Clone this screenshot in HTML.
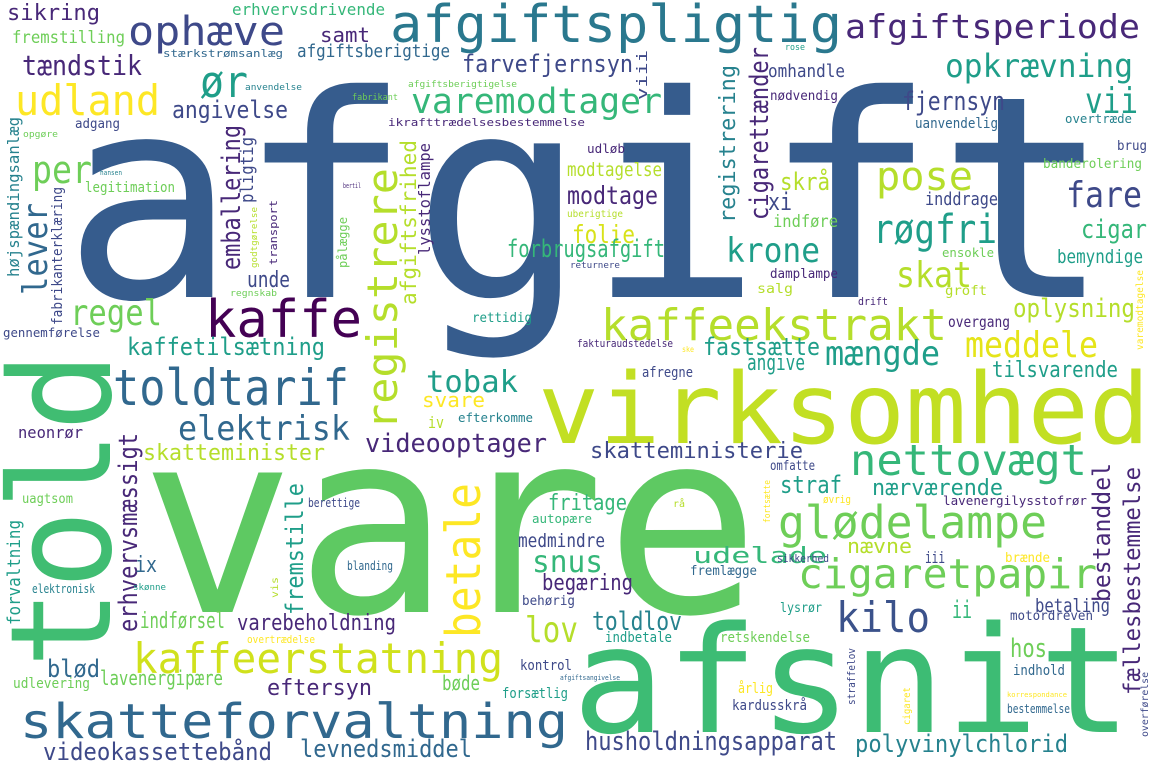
<!DOCTYPE html>
<html><head><meta charset="utf-8"><style>
html,body{margin:0;padding:0;background:#fff;width:1155px;height:770px;overflow:hidden}
svg{display:block}
text{font-family:"DejaVu Sans Mono","Liberation Mono",monospace}
</style></head><body>
<svg width="1155" height="770" viewBox="0 0 1155 770" xmlns="http://www.w3.org/2000/svg">
<rect width="1155" height="770" fill="#fff"/>
<g>
<text x="62" y="297" font-size="282" textLength="1050" lengthAdjust="spacingAndGlyphs" fill="#365c8d">afgift</text>
<text x="140" y="612" font-size="255" textLength="620" lengthAdjust="spacingAndGlyphs" fill="#5ec962">vare</text>
<text x="572" y="732" font-size="148" textLength="560" lengthAdjust="spacingAndGlyphs" fill="#3dbc74">afsnit</text>
<text x="538" y="443" font-size="98" textLength="612" lengthAdjust="spacingAndGlyphs" fill="#c2df23">virksomhed</text>
<text transform="translate(110,668) rotate(-90)" font-size="140" textLength="316" lengthAdjust="spacingAndGlyphs" fill="#40bd72">told</text>
<text transform="translate(397,430) rotate(-90)" font-size="42" textLength="262" lengthAdjust="spacingAndGlyphs" fill="#b5de2b">registrere</text>
<text transform="translate(480,638) rotate(-90)" font-size="48" textLength="155" lengthAdjust="spacingAndGlyphs" fill="#fde725">betale</text>
<text transform="translate(19,277) rotate(-90)" font-size="16" textLength="160" lengthAdjust="spacingAndGlyphs" fill="#26828e">højspændingsanlæg</text>
<text transform="translate(47,295) rotate(-90)" font-size="34" textLength="92" lengthAdjust="spacingAndGlyphs" fill="#31688e">lever</text>
<text transform="translate(62,325) rotate(-90)" font-size="14" textLength="138" lengthAdjust="spacingAndGlyphs" fill="#3e4989">fabrikanterklæring</text>
<text transform="translate(240,270) rotate(-90)" font-size="26" textLength="145" lengthAdjust="spacingAndGlyphs" fill="#482878">emballering</text>
<text transform="translate(253,203) rotate(-90)" font-size="18" textLength="66" lengthAdjust="spacingAndGlyphs" fill="#3e4989">pligtig</text>
<text transform="translate(277,265) rotate(-90)" font-size="11" textLength="65" lengthAdjust="spacingAndGlyphs" fill="#482878">transport</text>
<text transform="translate(257,268) rotate(-90)" font-size="9" textLength="61" lengthAdjust="spacingAndGlyphs" fill="#b5de2b">godtgørelse</text>
<text transform="translate(347,268) rotate(-90)" font-size="12" textLength="51" lengthAdjust="spacingAndGlyphs" fill="#6ece58">pålægge</text>
<text transform="translate(416,305) rotate(-90)" font-size="21" textLength="165" lengthAdjust="spacingAndGlyphs" fill="#b5de2b">afgiftsfrihed</text>
<text transform="translate(430,255) rotate(-90)" font-size="16" textLength="112" lengthAdjust="spacingAndGlyphs" fill="#482878">lysstoflampe</text>
<text transform="translate(735,223) rotate(-90)" font-size="22" textLength="158" lengthAdjust="spacingAndGlyphs" fill="#26828e">registrering</text>
<text transform="translate(768,220) rotate(-90)" font-size="26" textLength="173" lengthAdjust="spacingAndGlyphs" fill="#482878">cigarettænder</text>
<text transform="translate(647,100) rotate(-90)" font-size="14" textLength="50" lengthAdjust="spacingAndGlyphs" fill="#3e4989">viii</text>
<text transform="translate(137,632) rotate(-90)" font-size="26" textLength="199" lengthAdjust="spacingAndGlyphs" fill="#482878">erhvervsmæssigt</text>
<text transform="translate(303,615) rotate(-90)" font-size="24" textLength="132" lengthAdjust="spacingAndGlyphs" fill="#1f9e89">fremstille</text>
<text transform="translate(20,625) rotate(-90)" font-size="18" textLength="105" lengthAdjust="spacingAndGlyphs" fill="#1f9e89">forvaltning</text>
<text transform="translate(278,598) rotate(-90)" font-size="10" textLength="21" lengthAdjust="spacingAndGlyphs" fill="#b5de2b">vis</text>
<text transform="translate(770,523) rotate(-90)" font-size="9" textLength="43" lengthAdjust="spacingAndGlyphs" fill="#fde725">fortsætte</text>
<text transform="translate(1110,602) rotate(-90)" font-size="24" textLength="139" lengthAdjust="spacingAndGlyphs" fill="#482878">bestanddel</text>
<text transform="translate(1140,695) rotate(-90)" font-size="23" textLength="228" lengthAdjust="spacingAndGlyphs" fill="#482878">fællesbestemmelse</text>
<text transform="translate(855,705) rotate(-90)" font-size="11" textLength="57" lengthAdjust="spacingAndGlyphs" fill="#3e4989">straffelov</text>
<text transform="translate(910,725) rotate(-90)" font-size="10" textLength="38" lengthAdjust="spacingAndGlyphs" fill="#fde725">cigaret</text>
<text transform="translate(1148,737) rotate(-90)" font-size="10" textLength="65" lengthAdjust="spacingAndGlyphs" fill="#3e4989">overførelse</text>
<text transform="translate(1143,350) rotate(-90)" font-size="10" textLength="80" lengthAdjust="spacingAndGlyphs" fill="#fde725">varemodtagelse</text>

<text x="7" y="20" font-size="22" textLength="93" lengthAdjust="spacingAndGlyphs" fill="#482878">sikring</text>
<text x="128" y="45" font-size="40" textLength="157" lengthAdjust="spacingAndGlyphs" fill="#3e4989">ophæve</text>
<text x="232" y="15" font-size="16" textLength="153" lengthAdjust="spacingAndGlyphs" fill="#35b779">erhvervsdrivende</text>
<text x="12" y="43" font-size="17" textLength="113" lengthAdjust="spacingAndGlyphs" fill="#6ece58">fremstilling</text>
<text x="320" y="42" font-size="20" textLength="50" lengthAdjust="spacingAndGlyphs" fill="#482878">samt</text>
<text x="163" y="57" font-size="11" textLength="120" lengthAdjust="spacingAndGlyphs" fill="#31688e">stærkstrømsanlæg</text>
<text x="297" y="57" font-size="18" textLength="153" lengthAdjust="spacingAndGlyphs" fill="#31688e">afgiftsberigtige</text>
<text x="22" y="75" font-size="28" textLength="120" lengthAdjust="spacingAndGlyphs" fill="#482878">tændstik</text>
<text x="200" y="97" font-size="44" textLength="48" lengthAdjust="spacingAndGlyphs" fill="#1f9e89">ør</text>
<text x="245" y="90" font-size="9" textLength="57" lengthAdjust="spacingAndGlyphs" fill="#26828e">anvendelse</text>
<text x="15" y="115" font-size="42" textLength="145" lengthAdjust="spacingAndGlyphs" fill="#fde725">udland</text>
<text x="172" y="118" font-size="24" textLength="116" lengthAdjust="spacingAndGlyphs" fill="#3e4989">angivelse</text>
<text x="75" y="128" font-size="13" textLength="45" lengthAdjust="spacingAndGlyphs" fill="#3e4989">adgang</text>
<text x="23" y="137" font-size="9" textLength="35" lengthAdjust="spacingAndGlyphs" fill="#6ece58">opgøre</text>
<text x="32" y="183" font-size="38" textLength="60" lengthAdjust="spacingAndGlyphs" fill="#6ece58">per</text>
<text x="85" y="192" font-size="14" textLength="90" lengthAdjust="spacingAndGlyphs" fill="#6ece58">legitimation</text>
<text x="205" y="337" font-size="52" textLength="157" lengthAdjust="spacingAndGlyphs" fill="#440154">kaffe</text>
<text x="70" y="325" font-size="36" textLength="92" lengthAdjust="spacingAndGlyphs" fill="#6ece58">regel</text>
<text x="247" y="287" font-size="22" textLength="43" lengthAdjust="spacingAndGlyphs" fill="#3e4989">unde</text>
<text x="230" y="296" font-size="9" textLength="47" lengthAdjust="spacingAndGlyphs" fill="#6ece58">regnskab</text>
<text x="3" y="337" font-size="12" textLength="97" lengthAdjust="spacingAndGlyphs" fill="#3e4989">gennemførelse</text>
<text x="127" y="355" font-size="24" textLength="198" lengthAdjust="spacingAndGlyphs" fill="#1f9e89">kaffetilsætning</text>
<text x="352" y="100" font-size="9" textLength="46" lengthAdjust="spacingAndGlyphs" fill="#6ece58">fabrikant</text>
<text x="100" y="175" font-size="7" textLength="22" lengthAdjust="spacingAndGlyphs" fill="#26828e">hansen</text>
<text x="343" y="188" font-size="7" textLength="18" lengthAdjust="spacingAndGlyphs" fill="#482878">bertil</text>
<text x="390" y="42" font-size="52" textLength="452" lengthAdjust="spacingAndGlyphs" fill="#2a788e">afgiftspligtig</text>
<text x="845" y="38" font-size="33" textLength="295" lengthAdjust="spacingAndGlyphs" fill="#482878">afgiftsperiode</text>
<text x="462" y="72" font-size="24" textLength="171" lengthAdjust="spacingAndGlyphs" fill="#3e4989">farvefjernsyn</text>
<text x="408" y="87" font-size="9" textLength="109" lengthAdjust="spacingAndGlyphs" fill="#6ece58">afgiftsberigtigelse</text>
<text x="411" y="113" font-size="35" textLength="251" lengthAdjust="spacingAndGlyphs" fill="#35b779">varemodtager</text>
<text x="388" y="126" font-size="11" textLength="197" lengthAdjust="spacingAndGlyphs" fill="#482878">ikrafttrædelsesbestemmelse</text>
<text x="587" y="153" font-size="12" textLength="38" lengthAdjust="spacingAndGlyphs" fill="#482878">udløb</text>
<text x="567" y="176" font-size="19" textLength="95" lengthAdjust="spacingAndGlyphs" fill="#b5de2b">modtagelse</text>
<text x="567" y="204" font-size="25" textLength="91" lengthAdjust="spacingAndGlyphs" fill="#482878">modtage</text>
<text x="567" y="217" font-size="10" textLength="56" lengthAdjust="spacingAndGlyphs" fill="#b5de2b">uberigtige</text>
<text x="572" y="243" font-size="25" textLength="63" lengthAdjust="spacingAndGlyphs" fill="#d8e219">folie</text>
<text x="507" y="257" font-size="24" textLength="158" lengthAdjust="spacingAndGlyphs" fill="#35b779">forbrugsafgift</text>
<text x="570" y="268" font-size="9" textLength="50" lengthAdjust="spacingAndGlyphs" fill="#3e4989">returnere</text>
<text x="472" y="322" font-size="13" textLength="60" lengthAdjust="spacingAndGlyphs" fill="#1f9e89">rettidig</text>
<text x="726" y="262" font-size="34" textLength="94" lengthAdjust="spacingAndGlyphs" fill="#1f9e89">krone</text>
<text x="601" y="340" font-size="44" textLength="346" lengthAdjust="spacingAndGlyphs" fill="#b5de2b">kaffeekstrakt</text>
<text x="577" y="347" font-size="11" textLength="96" lengthAdjust="spacingAndGlyphs" fill="#482878">fakturaudstedelse</text>
<text x="703" y="355" font-size="24" textLength="117" lengthAdjust="spacingAndGlyphs" fill="#1f9e89">fastsætte</text>
<text x="747" y="370" font-size="22" textLength="58" lengthAdjust="spacingAndGlyphs" fill="#1f9e89">angive</text>
<text x="642" y="377" font-size="14" textLength="51" lengthAdjust="spacingAndGlyphs" fill="#3e4989">afregne</text>
<text x="682" y="352" font-size="8" textLength="12" lengthAdjust="spacingAndGlyphs" fill="#fde725">ske</text>
<text x="768" y="77" font-size="18" textLength="77" lengthAdjust="spacingAndGlyphs" fill="#3e4989">omhandle</text>
<text x="785" y="50" font-size="9" textLength="20" lengthAdjust="spacingAndGlyphs" fill="#1f9e89">rose</text>
<text x="770" y="100" font-size="13" textLength="68" lengthAdjust="spacingAndGlyphs" fill="#482878">nødvendig</text>
<text x="945" y="77" font-size="32" textLength="188" lengthAdjust="spacingAndGlyphs" fill="#1f9e89">opkrævning</text>
<text x="902" y="110" font-size="26" textLength="103" lengthAdjust="spacingAndGlyphs" fill="#3e4989">fjernsyn</text>
<text x="1085" y="113" font-size="36" textLength="53" lengthAdjust="spacingAndGlyphs" fill="#1f9e89">vii</text>
<text x="915" y="128" font-size="14" textLength="83" lengthAdjust="spacingAndGlyphs" fill="#31688e">uanvendelig</text>
<text x="1065" y="123" font-size="12" textLength="67" lengthAdjust="spacingAndGlyphs" fill="#26828e">overtræde</text>
<text x="1117" y="150" font-size="13" textLength="30" lengthAdjust="spacingAndGlyphs" fill="#3e4989">brug</text>
<text x="1043" y="168" font-size="13" textLength="99" lengthAdjust="spacingAndGlyphs" fill="#6ece58">banderolering</text>
<text x="876" y="190" font-size="40" textLength="97" lengthAdjust="spacingAndGlyphs" fill="#b5de2b">pose</text>
<text x="780" y="190" font-size="24" textLength="50" lengthAdjust="spacingAndGlyphs" fill="#b5de2b">skrå</text>
<text x="768" y="210" font-size="24" textLength="24" lengthAdjust="spacingAndGlyphs" fill="#3e4989">xi</text>
<text x="1066" y="207" font-size="36" textLength="76" lengthAdjust="spacingAndGlyphs" fill="#3e4989">fare</text>
<text x="925" y="205" font-size="18" textLength="73" lengthAdjust="spacingAndGlyphs" fill="#3e4989">inddrage</text>
<text x="773" y="227" font-size="17" textLength="65" lengthAdjust="spacingAndGlyphs" fill="#6ece58">indføre</text>
<text x="873" y="243" font-size="40" textLength="124" lengthAdjust="spacingAndGlyphs" fill="#1f9e89">røgfri</text>
<text x="1081" y="238" font-size="26" textLength="66" lengthAdjust="spacingAndGlyphs" fill="#35b779">cigar</text>
<text x="942" y="257" font-size="12" textLength="52" lengthAdjust="spacingAndGlyphs" fill="#6ece58">ensokle</text>
<text x="1057" y="263" font-size="19" textLength="86" lengthAdjust="spacingAndGlyphs" fill="#1f9e89">bemyndige</text>
<text x="896" y="287" font-size="36" textLength="76" lengthAdjust="spacingAndGlyphs" fill="#b5de2b">skat</text>
<text x="770" y="278" font-size="13" textLength="68" lengthAdjust="spacingAndGlyphs" fill="#482878">damplampe</text>
<text x="757" y="293" font-size="13" textLength="36" lengthAdjust="spacingAndGlyphs" fill="#b5de2b">salg</text>
<text x="858" y="305" font-size="11" textLength="30" lengthAdjust="spacingAndGlyphs" fill="#482878">drift</text>
<text x="945" y="295" font-size="13" textLength="42" lengthAdjust="spacingAndGlyphs" fill="#b5de2b">groft</text>
<text x="948" y="327" font-size="15" textLength="62" lengthAdjust="spacingAndGlyphs" fill="#482878">overgang</text>
<text x="1013" y="317" font-size="26" textLength="122" lengthAdjust="spacingAndGlyphs" fill="#b5de2b">oplysning</text>
<text x="965" y="357" font-size="36" textLength="133" lengthAdjust="spacingAndGlyphs" fill="#e5e419">meddele</text>
<text x="825" y="365" font-size="34" textLength="115" lengthAdjust="spacingAndGlyphs" fill="#1f9e89">mængde</text>
<text x="992" y="377" font-size="22" textLength="126" lengthAdjust="spacingAndGlyphs" fill="#1f9e89">tilsvarende</text>
<text x="113" y="405" font-size="50" textLength="236" lengthAdjust="spacingAndGlyphs" fill="#31688e">toldtarif</text>
<text x="18" y="438" font-size="16" textLength="65" lengthAdjust="spacingAndGlyphs" fill="#482878">neonrør</text>
<text x="178" y="440" font-size="34" textLength="172" lengthAdjust="spacingAndGlyphs" fill="#31688e">elektrisk</text>
<text x="143" y="460" font-size="22" textLength="182" lengthAdjust="spacingAndGlyphs" fill="#b5de2b">skatteminister</text>
<text x="22" y="503" font-size="13" textLength="51" lengthAdjust="spacingAndGlyphs" fill="#6ece58">uagtsom</text>
<text x="308" y="507" font-size="12" textLength="52" lengthAdjust="spacingAndGlyphs" fill="#3e4989">berettige</text>
<text x="135" y="572" font-size="22" textLength="22" lengthAdjust="spacingAndGlyphs" fill="#31688e">ix</text>
<text x="32" y="593" font-size="12" textLength="63" lengthAdjust="spacingAndGlyphs" fill="#26828e">elektronisk</text>
<text x="133" y="590" font-size="9" textLength="33" lengthAdjust="spacingAndGlyphs" fill="#1f9e89">skønne</text>
<text x="347" y="570" font-size="12" textLength="46" lengthAdjust="spacingAndGlyphs" fill="#31688e">blanding</text>
<text x="140" y="628" font-size="22" textLength="85" lengthAdjust="spacingAndGlyphs" fill="#6ece58">indførsel</text>
<text x="237" y="630" font-size="22" textLength="159" lengthAdjust="spacingAndGlyphs" fill="#482878">varebeholdning</text>
<text x="247" y="643" font-size="11" textLength="68" lengthAdjust="spacingAndGlyphs" fill="#fde725">overtrædelse</text>
<text x="133" y="673" font-size="42" textLength="370" lengthAdjust="spacingAndGlyphs" fill="#d0e11c">kaffeerstatning</text>
<text x="47" y="677" font-size="24" textLength="53" lengthAdjust="spacingAndGlyphs" fill="#31688e">blød</text>
<text x="13" y="688" font-size="14" textLength="77" lengthAdjust="spacingAndGlyphs" fill="#6ece58">udlevering</text>
<text x="100" y="685" font-size="20" textLength="123" lengthAdjust="spacingAndGlyphs" fill="#6ece58">lavenergipære</text>
<text x="267" y="695" font-size="22" textLength="105" lengthAdjust="spacingAndGlyphs" fill="#482878">eftersyn</text>
<text x="20" y="738" font-size="48" textLength="548" lengthAdjust="spacingAndGlyphs" fill="#31688e">skatteforvaltning</text>
<text x="43" y="760" font-size="24" textLength="229" lengthAdjust="spacingAndGlyphs" fill="#3e4989">videokassettebånd</text>
<text x="300" y="757" font-size="24" textLength="172" lengthAdjust="spacingAndGlyphs" fill="#31688e">levnedsmiddel</text>
<text x="426" y="392" font-size="30" textLength="92" lengthAdjust="spacingAndGlyphs" fill="#1f9e89">tobak</text>
<text x="422" y="407" font-size="20" textLength="63" lengthAdjust="spacingAndGlyphs" fill="#fde725">svare</text>
<text x="428" y="428" font-size="16" textLength="16" lengthAdjust="spacingAndGlyphs" fill="#b5de2b">iv</text>
<text x="458" y="422" font-size="12" textLength="75" lengthAdjust="spacingAndGlyphs" fill="#26828e">efterkomme</text>
<text x="365" y="452" font-size="26" textLength="182" lengthAdjust="spacingAndGlyphs" fill="#482878">videooptager</text>
<text x="590" y="458" font-size="22" textLength="213" lengthAdjust="spacingAndGlyphs" fill="#3e4989">skatteministerie</text>
<text x="548" y="510" font-size="22" textLength="79" lengthAdjust="spacingAndGlyphs" fill="#35b779">fritage</text>
<text x="673" y="507" font-size="10" textLength="12" lengthAdjust="spacingAndGlyphs" fill="#b5de2b">rå</text>
<text x="532" y="523" font-size="12" textLength="60" lengthAdjust="spacingAndGlyphs" fill="#35b779">autopære</text>
<text x="518" y="547" font-size="19" textLength="87" lengthAdjust="spacingAndGlyphs" fill="#3e4989">medmindre</text>
<text x="532" y="572" font-size="30" textLength="71" lengthAdjust="spacingAndGlyphs" fill="#35b779">snus</text>
<text x="693" y="563" font-size="22" textLength="134" lengthAdjust="spacingAndGlyphs" fill="#35b779">udelade</text>
<text x="690" y="575" font-size="13" textLength="67" lengthAdjust="spacingAndGlyphs" fill="#31688e">fremlægge</text>
<text x="542" y="590" font-size="22" textLength="91" lengthAdjust="spacingAndGlyphs" fill="#482878">begæring</text>
<text x="522" y="605" font-size="13" textLength="53" lengthAdjust="spacingAndGlyphs" fill="#3e4989">behørig</text>
<text x="525" y="642" font-size="36" textLength="53" lengthAdjust="spacingAndGlyphs" fill="#b5de2b">lov</text>
<text x="592" y="630" font-size="26" textLength="90" lengthAdjust="spacingAndGlyphs" fill="#26828e">toldlov</text>
<text x="605" y="642" font-size="14" textLength="67" lengthAdjust="spacingAndGlyphs" fill="#1f9e89">indbetale</text>
<text x="720" y="642" font-size="14" textLength="90" lengthAdjust="spacingAndGlyphs" fill="#6ece58">retskendelse</text>
<text x="520" y="670" font-size="14" textLength="52" lengthAdjust="spacingAndGlyphs" fill="#3e4989">kontrol</text>
<text x="560" y="680" font-size="7" textLength="60" lengthAdjust="spacingAndGlyphs" fill="#31688e">afgiftsangivelse</text>
<text x="442" y="690" font-size="20" textLength="38" lengthAdjust="spacingAndGlyphs" fill="#6ece58">bøde</text>
<text x="502" y="698" font-size="14" textLength="66" lengthAdjust="spacingAndGlyphs" fill="#1f9e89">forsætlig</text>
<text x="738" y="693" font-size="14" textLength="35" lengthAdjust="spacingAndGlyphs" fill="#fde725">årlig</text>
<text x="732" y="710" font-size="14" textLength="75" lengthAdjust="spacingAndGlyphs" fill="#3e4989">kardusskrå</text>
<text x="585" y="750" font-size="26" textLength="252" lengthAdjust="spacingAndGlyphs" fill="#3e4989">husholdningsapparat</text>
<text x="850" y="475" font-size="43" textLength="237" lengthAdjust="spacingAndGlyphs" fill="#35b779">nettovægt</text>
<text x="770" y="470" font-size="13" textLength="45" lengthAdjust="spacingAndGlyphs" fill="#3e4989">omfatte</text>
<text x="780" y="493" font-size="24" textLength="62" lengthAdjust="spacingAndGlyphs" fill="#1f9e89">straf</text>
<text x="872" y="495" font-size="22" textLength="131" lengthAdjust="spacingAndGlyphs" fill="#1f9e89">nærværende</text>
<text x="823" y="503" font-size="11" textLength="28" lengthAdjust="spacingAndGlyphs" fill="#fde725">øvrig</text>
<text x="943" y="505" font-size="12" textLength="144" lengthAdjust="spacingAndGlyphs" fill="#482878">lavenergilysstofrør</text>
<text x="778" y="538" font-size="45" textLength="269" lengthAdjust="spacingAndGlyphs" fill="#6ece58">glødelampe</text>
<text x="847" y="553" font-size="20" textLength="65" lengthAdjust="spacingAndGlyphs" fill="#b5de2b">nævne</text>
<text x="777" y="562" font-size="11" textLength="52" lengthAdjust="spacingAndGlyphs" fill="#3e4989">sikkerhed</text>
<text x="925" y="563" font-size="16" textLength="20" lengthAdjust="spacingAndGlyphs" fill="#3e4989">iii</text>
<text x="1005" y="562" font-size="13" textLength="45" lengthAdjust="spacingAndGlyphs" fill="#fde725">brænde</text>
<text x="798" y="588" font-size="41" textLength="299" lengthAdjust="spacingAndGlyphs" fill="#6ece58">cigaretpapir</text>
<text x="836" y="632" font-size="42" textLength="94" lengthAdjust="spacingAndGlyphs" fill="#3b528b">kilo</text>
<text x="952" y="618" font-size="24" textLength="20" lengthAdjust="spacingAndGlyphs" fill="#35b779">ii</text>
<text x="1035" y="612" font-size="19" textLength="75" lengthAdjust="spacingAndGlyphs" fill="#3e4989">betaling</text>
<text x="1010" y="620" font-size="13" textLength="83" lengthAdjust="spacingAndGlyphs" fill="#3e4989">motordreven</text>
<text x="780" y="612" font-size="13" textLength="42" lengthAdjust="spacingAndGlyphs" fill="#1f9e89">lysrør</text>
<text x="1010" y="657" font-size="26" textLength="37" lengthAdjust="spacingAndGlyphs" fill="#6ece58">hos</text>
<text x="1013" y="675" font-size="14" textLength="52" lengthAdjust="spacingAndGlyphs" fill="#31688e">indhold</text>
<text x="1007" y="697" font-size="7" textLength="60" lengthAdjust="spacingAndGlyphs" fill="#fde725">korrespondance</text>
<text x="1007" y="713" font-size="12" textLength="63" lengthAdjust="spacingAndGlyphs" fill="#31688e">bestemmelse</text>
<text x="855" y="752" font-size="24" textLength="213" lengthAdjust="spacingAndGlyphs" fill="#26828e">polyvinylchlorid</text>
</g>
</svg>
</body></html>
